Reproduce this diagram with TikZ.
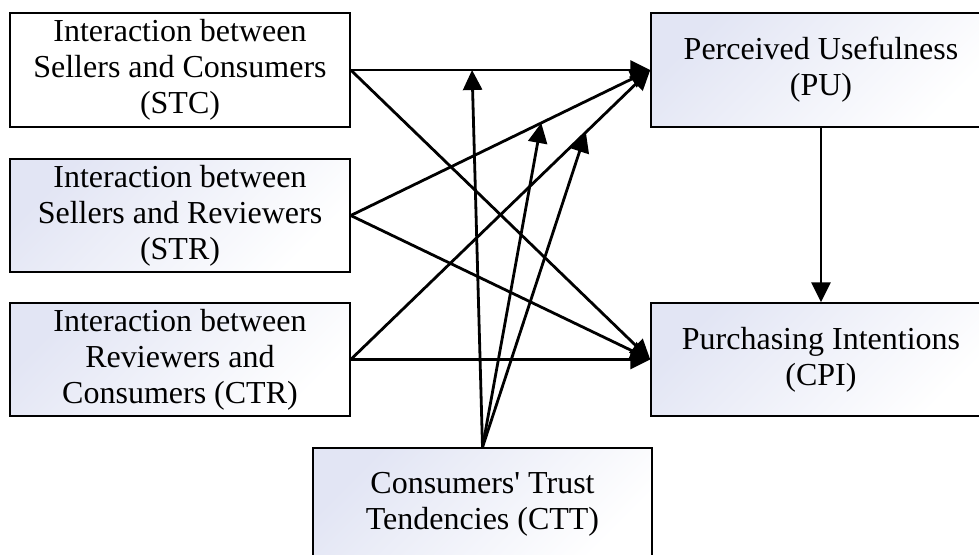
\documentclass[tikz,border=0pt]{standalone}
\usepackage{fontspec}
\setmainfont{Liberation Serif}
\usetikzlibrary{arrows.meta,calc}
\definecolor{lav}{RGB}{226,229,244}
\tikzset{
  box/.style={draw=black, line width=1.5pt, inner sep=0pt, minimum width=340pt,
    minimum height=113pt, align=center, font=\fontsize{32}{36}\selectfont},
  shadedbox/.style={box, shade, top color=lav, bottom color=white, shading angle=45},
  whitebox/.style={box, fill=white},
  link/.style={line width=2.8pt, -{Triangle[length=20pt,width=19pt]}}
}
\begin{document}
\begin{tikzpicture}[x=1pt,y=-1pt]
\useasboundingbox (0,0) rectangle (979,554);
\clip (0,0) rectangle (979,554);
\node[whitebox, minimum height=114pt] (STC) at (180,70) {Interaction between\\Sellers and Consumers\\(STC)};
\node[shadedbox] (STR) at (180,215.5) {Interaction between\\Sellers and Reviewers\\(STR)};
\node[shadedbox] (CTR) at (180,359.5) {Interaction between\\Reviewers and\\Consumers (CTR)};
\node[shadedbox, minimum height=114pt] (PU) at (821,70) {Perceived Usefulness\\(PU)};
\node[shadedbox] (CPI) at (821,359.5) {Purchasing Intentions\\(CPI)};
\node[shadedbox, minimum width=339pt] (CTT) at (482.5,504.5) {Consumers\textquotesingle{} Trust\\Tendencies (CTT)};
\coordinate (m1) at ($(STC.east)!0.405!(PU.west)$);
\coordinate (m2) at ($(STR.east)!0.636!(PU.west)$);
\coordinate (m3) at ($(CTR.east)!0.785!(PU.west)$);
\draw[link] (STC.east) -- (PU.west);
\draw[link] (STC.east) -- (CPI.west);
\draw[link] (STR.east) -- (PU.west);
\draw[link] (STR.east) -- (CPI.west);
\draw[link] (CTR.east) -- (PU.west);
\draw[link] (CTR.east) -- (CPI.west);
\draw[link] (PU.south) -- (CPI.north);
\draw[link] (CTT.north) -- (m1);
\draw[link] (CTT.north) -- (m2);
\draw[link] (CTT.north) -- (m3);
\end{tikzpicture}
\end{document}
